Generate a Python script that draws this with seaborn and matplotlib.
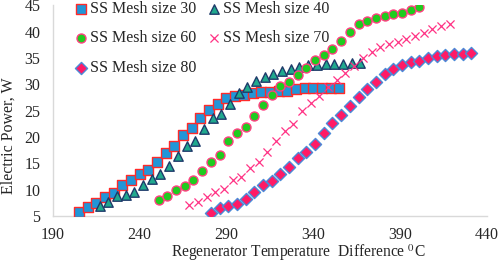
import matplotlib
matplotlib.use("Agg")
import matplotlib.pyplot as plt
import seaborn as sns

# Data
t30 = [205, 210, 215, 220, 225, 230, 235, 240, 245, 250, 255, 260, 265, 270, 275, 280,
       285, 290, 295, 300, 305, 310, 315, 320, 325, 330, 335, 340, 345, 350, 355]
p30 = [5.7, 6.6, 7.5, 8.5, 9.4, 10.8, 11.9, 12.9, 13.7, 15.3, 16.9, 18.2, 20.4, 21.7, 23.5, 25.1,
       26.3, 27.4, 27.8, 28.0, 28.3, 28.5, 28.6, 28.7, 28.8, 29.1, 29.2, 29.2, 29.3, 29.3, 29.3]

t40 = [217, 222, 227, 232, 237, 242, 247, 252, 257, 262, 267, 272, 277, 282, 287, 292,
       297, 302, 307, 312, 317, 322, 327, 332, 337, 342, 347, 352, 357, 362, 367]
p40 = [6.8, 7.7, 8.8, 9.0, 9.5, 10.9, 12.0, 12.9, 14.4, 16.3, 18.2, 19.3, 21.5, 23.5, 24.4, 26.3,
       28.3, 29.5, 30.6, 31.4, 32.0, 32.5, 32.9, 33.2, 33.7, 33.7, 33.8, 33.9, 33.9, 34.0, 34.0]

t60 = [251, 256, 261, 266, 271, 276, 281, 286, 291, 296, 301, 306, 311, 316, 321, 326,
       331, 336, 341, 346, 351, 356, 361, 366, 371, 376, 381, 386, 391, 396, 401]
p60 = [8.0, 8.8, 9.9, 10.7, 11.8, 13.5, 15.2, 16.5, 19.2, 20.7, 21.8, 23.9, 26.1, 28.0, 29.7, 30.5,
       31.8, 33.0, 34.6, 35.6, 36.6, 38.2, 39.9, 41.4, 42.1, 42.5, 42.9, 43.4, 43.5, 44.1, 44.6]

t70 = [268.5, 273.5, 278.5, 283.5, 288.5, 293.5, 298.5, 303.5, 308.5, 313.5, 318.5, 323.5,
       328.5, 333.5, 338.5, 343.5, 348.5, 353.5, 358.5, 363.5, 368.5, 373.5, 378.5, 383.5,
       388.5, 393.5, 398.5, 403.5, 408.5, 413.5, 418.5]
p70 = [7.1, 7.7, 8.5, 9.5, 10.2, 11.8, 12.4, 14.1, 15.2, 17.1, 19.2, 21.1,
       22.5, 24.9, 26.5, 27.8, 29.4, 30.8, 32.2, 33.4, 35.0, 36.2, 37.0, 37.7,
       38.1, 38.6, 39.2, 39.8, 40.5, 41.1, 41.4]

t80 = [281, 286, 291, 296, 301, 306, 311, 316, 321, 326, 331, 336, 341, 346, 351, 356,
       361, 366, 371, 376, 381, 386, 391, 396, 401, 406, 411, 416, 421, 426, 431]
p80 = [5.6, 6.5, 6.9, 7.3, 8.3, 9.5, 10.8, 11.7, 12.9, 14.2, 15.9, 17.1, 18.7, 20.8, 22.6, 24.1,
       25.9, 27.5, 29.1, 30.5, 32.0, 32.9, 33.7, 34.2, 34.4, 34.9, 35.4, 35.6, 35.7, 35.7, 35.9]

sns.set_style("white")
plt.rcParams['font.family'] = ['Liberation Serif', 'DejaVu Serif']
plt.rcParams['mathtext.fontset'] = 'stix'

fig, ax = plt.subplots(figsize=(4.98, 2.62), dpi=100)
fig.subplots_adjust(left=0.106, right=0.978, bottom=0.176, top=0.98)

sns.scatterplot(x=t30, y=p30, ax=ax, marker='s', s=42, color='#2196d8', edgecolor='#ff2a2a',
                linewidth=1.0, label='SS Mesh size 30', zorder=3)
sns.scatterplot(x=t40, y=p40, ax=ax, marker='^', s=46, color='#20a98e', edgecolor='#1f3b6b',
                linewidth=1.0, label='SS Mesh size 40', zorder=3)
sns.scatterplot(x=t60, y=p60, ax=ax, marker='o', s=42, color='#1fcc1f', edgecolor='#ff4081',
                linewidth=1.0, label='SS Mesh size 60', zorder=3)
sns.scatterplot(x=t70, y=p70, ax=ax, marker='x', s=34, color='#ff3385',
                linewidth=0.9, label='SS Mesh size 70', zorder=3)
sns.scatterplot(x=t80, y=p80, ax=ax, marker='D', s=38, color='#ff1a66', edgecolor='#4a8ad8',
                linewidth=1.0, label='SS Mesh size 80', zorder=3)

ax.set_xlim(190, 440)
ax.set_ylim(5, 45)
ax.set_xticks([190, 240, 290, 340, 390, 440])
ax.set_yticks([5, 10, 15, 20, 25, 30, 35, 40, 45])
ax.tick_params(axis='both', length=0, labelsize=11.5)
ax.tick_params(axis='y', pad=9)
ax.tick_params(axis='x', pad=8)

for side in ['top', 'right']:
    ax.spines[side].set_visible(False)
for side in ['left', 'bottom']:
    ax.spines[side].set_color('#d9d9d9')
    ax.spines[side].set_linewidth(1.0)

ax.set_xlabel(r'Regenerator Temperature  Difference $^{0}$C', fontsize=11.2)
ax.set_ylabel('Electric Power, W', fontsize=11.5)
ax.xaxis.set_label_coords(0.565, -0.127)
ax.yaxis.set_label_coords(-0.083, 0.38)

# legend in row order: 30, 40 / 60, 70 / 80
h, l = ax.get_legend_handles_labels()
order = [0, 2, 4, 1, 3]
ax.legend([h[i] for i in order], [l[i] for i in order], loc='upper left',
          bbox_to_anchor=(0.035, 1.051), ncol=2, frameon=False, fontsize=11.5,
          handlelength=0.8, handletextpad=0.2, columnspacing=0.66,
          labelspacing=0.85, borderaxespad=0)

fig.savefig('out.png', dpi=100)
